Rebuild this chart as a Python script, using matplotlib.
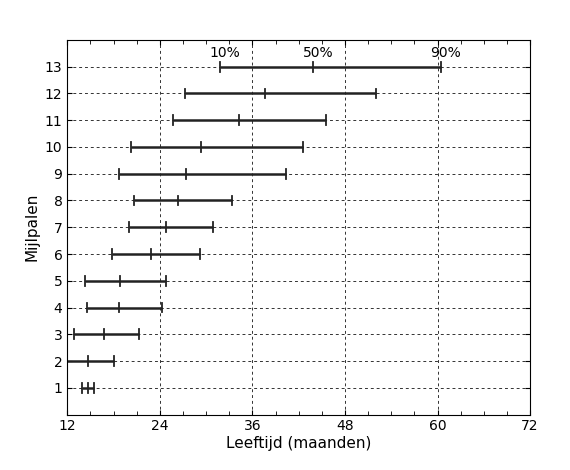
import matplotlib
matplotlib.use("Agg")
import matplotlib.pyplot as plt
import numpy as np

milestones = list(range(1, 14))
p10 = [13.9, 12.0, 12.9, 14.5, 14.3, 17.8, 20.0, 20.6, 18.7, 20.2, 25.7, 27.3, 31.8]
p50 = [14.7, 14.7, 16.7, 18.7, 18.9, 22.8, 24.8, 26.3, 27.4, 29.3, 34.3, 37.6, 43.9]
p90 = [15.5, 18.1, 21.3, 24.3, 24.8, 29.2, 30.9, 33.4, 40.3, 42.5, 45.6, 52.0, 60.4]

fig, ax = plt.subplots(figsize=(5.7, 4.7), dpi=100)
fig.subplots_adjust(left=0.118, right=0.93, top=0.915, bottom=0.118)

for m, a, b, c in zip(milestones, p10, p50, p90):
    ax.plot([a, c], [m, m], color='#222222', lw=1.8, solid_capstyle='butt')
    for v in (a, b, c):
        ax.plot([v, v], [m - 0.18, m + 0.18], color='#222222', lw=1.3)

# percentile labels above the top row
for v, lab in zip((p10[-1], p50[-1], p90[-1]), ('10%', '50%', '90%')):
    ax.text(v + 0.6, 13.25, lab, ha='center', va='bottom', fontsize=10)

ax.set_xlim(12, 72)
ax.set_ylim(0, 14)
ax.set_xticks([12, 24, 36, 48, 60, 72])
ax.set_xticks(np.arange(12, 73, 3), minor=True)
ax.set_yticks(milestones)
ax.grid(True, which='major', ls=(0, (3, 3)), color='#333333', lw=0.7)
ax.set_axisbelow(True)
ax.tick_params(which='both', direction='in', top=True, right=True, labelsize=10)
ax.tick_params(which='minor', length=3)
ax.set_xlabel('Leeftijd (maanden)', fontsize=11, labelpad=2)
ax.set_ylabel('Mijlpalen', fontsize=11)

plt.savefig('out.png')
